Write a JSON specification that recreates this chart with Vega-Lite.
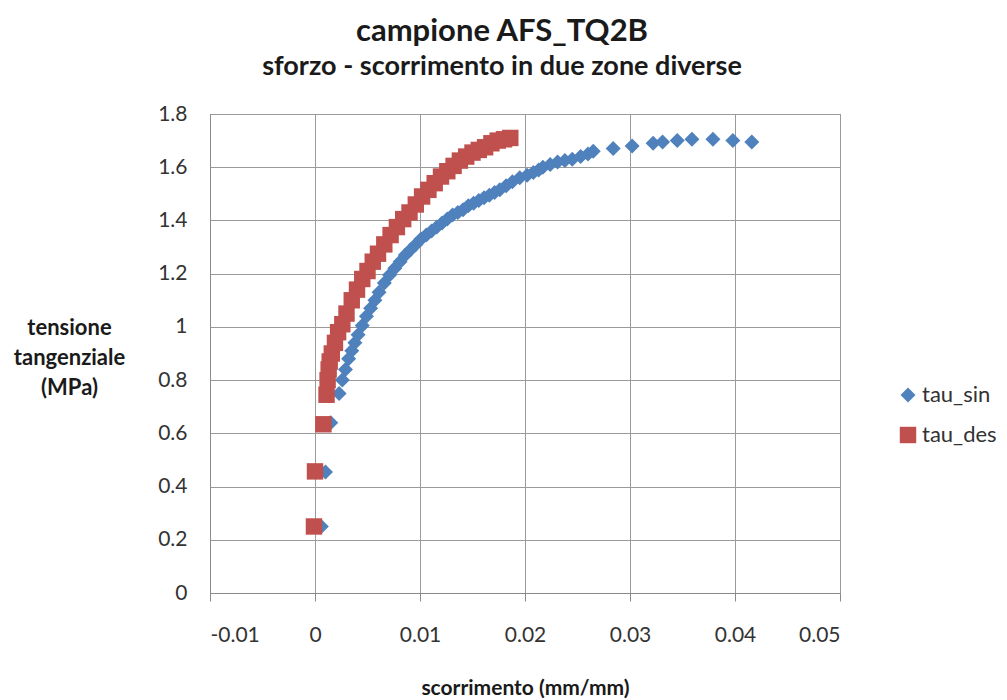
{
  "$schema": "https://vega.github.io/schema/vega-lite/v6.json",
  "width": 630,
  "height": 479,
  "autosize": {"type": "none"},
  "padding": {"left": 210, "top": 114, "right": 167, "bottom": 107},
  "background": "white",
  "title": {
    "text": "campione AFS_TQ2B",
    "subtitle": "sforzo - scorrimento in due zone diverse",
    "anchor": "middle",
    "frame": "group",
    "dx": -23,
    "offset": 22,
    "font": "Lato",
    "fontSize": 31,
    "fontWeight": "bold",
    "color": "#1a1a1a",
    "subtitleFont": "Lato",
    "subtitleFontSize": 27,
    "subtitleFontWeight": "bold",
    "subtitleColor": "#1a1a1a",
    "subtitlePadding": 6
  },
  "data": {
    "values": [
      {"serie": "tau_sin", "scorrimento": 0.0006, "tau": 0.25},
      {"serie": "tau_sin", "scorrimento": 0.0010, "tau": 0.455},
      {"serie": "tau_sin", "scorrimento": 0.0015, "tau": 0.64},
      {"serie": "tau_sin", "scorrimento": 0.0023, "tau": 0.75},
      {"serie": "tau_sin", "scorrimento": 0.0026, "tau": 0.80},
      {"serie": "tau_sin", "scorrimento": 0.0029, "tau": 0.84},
      {"serie": "tau_sin", "scorrimento": 0.0032, "tau": 0.88},
      {"serie": "tau_sin", "scorrimento": 0.0035, "tau": 0.91},
      {"serie": "tau_sin", "scorrimento": 0.0038, "tau": 0.94},
      {"serie": "tau_sin", "scorrimento": 0.0041, "tau": 0.97},
      {"serie": "tau_sin", "scorrimento": 0.0045, "tau": 1.005},
      {"serie": "tau_sin", "scorrimento": 0.0049, "tau": 1.04},
      {"serie": "tau_sin", "scorrimento": 0.0053, "tau": 1.07},
      {"serie": "tau_sin", "scorrimento": 0.0057, "tau": 1.10},
      {"serie": "tau_sin", "scorrimento": 0.0061, "tau": 1.13},
      {"serie": "tau_sin", "scorrimento": 0.0066, "tau": 1.165},
      {"serie": "tau_sin", "scorrimento": 0.0071, "tau": 1.195},
      {"serie": "tau_sin", "scorrimento": 0.0076, "tau": 1.22},
      {"serie": "tau_sin", "scorrimento": 0.0081, "tau": 1.245},
      {"serie": "tau_sin", "scorrimento": 0.0086, "tau": 1.27},
      {"serie": "tau_sin", "scorrimento": 0.0091, "tau": 1.29},
      {"serie": "tau_sin", "scorrimento": 0.0096, "tau": 1.31},
      {"serie": "tau_sin", "scorrimento": 0.0101, "tau": 1.33},
      {"serie": "tau_sin", "scorrimento": 0.0106, "tau": 1.345},
      {"serie": "tau_sin", "scorrimento": 0.0111, "tau": 1.36},
      {"serie": "tau_sin", "scorrimento": 0.0116, "tau": 1.375},
      {"serie": "tau_sin", "scorrimento": 0.0121, "tau": 1.39},
      {"serie": "tau_sin", "scorrimento": 0.0126, "tau": 1.405},
      {"serie": "tau_sin", "scorrimento": 0.0131, "tau": 1.42},
      {"serie": "tau_sin", "scorrimento": 0.0136, "tau": 1.43},
      {"serie": "tau_sin", "scorrimento": 0.0141, "tau": 1.44},
      {"serie": "tau_sin", "scorrimento": 0.0146, "tau": 1.455},
      {"serie": "tau_sin", "scorrimento": 0.0151, "tau": 1.465},
      {"serie": "tau_sin", "scorrimento": 0.0156, "tau": 1.475},
      {"serie": "tau_sin", "scorrimento": 0.0161, "tau": 1.485},
      {"serie": "tau_sin", "scorrimento": 0.0166, "tau": 1.495},
      {"serie": "tau_sin", "scorrimento": 0.0171, "tau": 1.505},
      {"serie": "tau_sin", "scorrimento": 0.0176, "tau": 1.515},
      {"serie": "tau_sin", "scorrimento": 0.0182, "tau": 1.53},
      {"serie": "tau_sin", "scorrimento": 0.0188, "tau": 1.545},
      {"serie": "tau_sin", "scorrimento": 0.0195, "tau": 1.56},
      {"serie": "tau_sin", "scorrimento": 0.0202, "tau": 1.57},
      {"serie": "tau_sin", "scorrimento": 0.0208, "tau": 1.58},
      {"serie": "tau_sin", "scorrimento": 0.0213, "tau": 1.59},
      {"serie": "tau_sin", "scorrimento": 0.0217, "tau": 1.60},
      {"serie": "tau_sin", "scorrimento": 0.0224, "tau": 1.61},
      {"serie": "tau_sin", "scorrimento": 0.0231, "tau": 1.62},
      {"serie": "tau_sin", "scorrimento": 0.0238, "tau": 1.625},
      {"serie": "tau_sin", "scorrimento": 0.0245, "tau": 1.63},
      {"serie": "tau_sin", "scorrimento": 0.0253, "tau": 1.64},
      {"serie": "tau_sin", "scorrimento": 0.0260, "tau": 1.65},
      {"serie": "tau_sin", "scorrimento": 0.0265, "tau": 1.66},
      {"serie": "tau_sin", "scorrimento": 0.0284, "tau": 1.67},
      {"serie": "tau_sin", "scorrimento": 0.0302, "tau": 1.68},
      {"serie": "tau_sin", "scorrimento": 0.0322, "tau": 1.69},
      {"serie": "tau_sin", "scorrimento": 0.0331, "tau": 1.695},
      {"serie": "tau_sin", "scorrimento": 0.0345, "tau": 1.70},
      {"serie": "tau_sin", "scorrimento": 0.0359, "tau": 1.705},
      {"serie": "tau_sin", "scorrimento": 0.0379, "tau": 1.705},
      {"serie": "tau_sin", "scorrimento": 0.0398, "tau": 1.70},
      {"serie": "tau_sin", "scorrimento": 0.0416, "tau": 1.695},
      {"serie": "tau_des", "scorrimento": -0.0001, "tau": 0.25},
      {"serie": "tau_des", "scorrimento": 0.0000, "tau": 0.457},
      {"serie": "tau_des", "scorrimento": 0.0008, "tau": 0.634},
      {"serie": "tau_des", "scorrimento": 0.0011, "tau": 0.745},
      {"serie": "tau_des", "scorrimento": 0.0012, "tau": 0.80},
      {"serie": "tau_des", "scorrimento": 0.0013, "tau": 0.84},
      {"serie": "tau_des", "scorrimento": 0.0014, "tau": 0.87},
      {"serie": "tau_des", "scorrimento": 0.0016, "tau": 0.90},
      {"serie": "tau_des", "scorrimento": 0.0019, "tau": 0.94},
      {"serie": "tau_des", "scorrimento": 0.0022, "tau": 0.98},
      {"serie": "tau_des", "scorrimento": 0.0026, "tau": 1.01},
      {"serie": "tau_des", "scorrimento": 0.0030, "tau": 1.05},
      {"serie": "tau_des", "scorrimento": 0.0035, "tau": 1.10},
      {"serie": "tau_des", "scorrimento": 0.0040, "tau": 1.14},
      {"serie": "tau_des", "scorrimento": 0.0045, "tau": 1.18},
      {"serie": "tau_des", "scorrimento": 0.0050, "tau": 1.21},
      {"serie": "tau_des", "scorrimento": 0.0055, "tau": 1.245},
      {"serie": "tau_des", "scorrimento": 0.0060, "tau": 1.275},
      {"serie": "tau_des", "scorrimento": 0.0066, "tau": 1.31},
      {"serie": "tau_des", "scorrimento": 0.0072, "tau": 1.345},
      {"serie": "tau_des", "scorrimento": 0.0078, "tau": 1.375},
      {"serie": "tau_des", "scorrimento": 0.0084, "tau": 1.405},
      {"serie": "tau_des", "scorrimento": 0.0090, "tau": 1.43},
      {"serie": "tau_des", "scorrimento": 0.0096, "tau": 1.46},
      {"serie": "tau_des", "scorrimento": 0.0102, "tau": 1.49},
      {"serie": "tau_des", "scorrimento": 0.0108, "tau": 1.515},
      {"serie": "tau_des", "scorrimento": 0.0114, "tau": 1.54},
      {"serie": "tau_des", "scorrimento": 0.0120, "tau": 1.565},
      {"serie": "tau_des", "scorrimento": 0.0126, "tau": 1.585},
      {"serie": "tau_des", "scorrimento": 0.0132, "tau": 1.605},
      {"serie": "tau_des", "scorrimento": 0.0138, "tau": 1.625},
      {"serie": "tau_des", "scorrimento": 0.0144, "tau": 1.64},
      {"serie": "tau_des", "scorrimento": 0.0150, "tau": 1.655},
      {"serie": "tau_des", "scorrimento": 0.0156, "tau": 1.665},
      {"serie": "tau_des", "scorrimento": 0.0162, "tau": 1.675},
      {"serie": "tau_des", "scorrimento": 0.0168, "tau": 1.69},
      {"serie": "tau_des", "scorrimento": 0.0174, "tau": 1.70},
      {"serie": "tau_des", "scorrimento": 0.0180, "tau": 1.705},
      {"serie": "tau_des", "scorrimento": 0.0186, "tau": 1.71}
    ]
  },
  "mark": {"type": "point", "filled": true, "opacity": 1},
  "encoding": {
    "x": {
      "field": "scorrimento",
      "type": "quantitative",
      "scale": {"domain": [-0.01, 0.05], "nice": false, "zero": false},
      "axis": {
        "title": "scorrimento (mm/mm)",
        "values": [-0.01, 0, 0.01, 0.02, 0.03, 0.04, 0.05],
        "labelExpr": "datum.value < 0 ? '-' + format(-datum.value, '~g') : format(datum.value, '~g')",
        "grid": true,
        "gridColor": "#9a9a9a",
        "gridWidth": 1,
        "domainColor": "#8a8a8a",
        "ticks": true,
        "tickSize": 8,
        "tickColor": "#8a8a8a",
        "labelPadding": 23,
        "labelFont": "Lato",
        "labelFontSize": 21,
        "labelColor": "#333333",
        "titleFont": "Lato",
        "titleFontSize": 21,
        "titleFontWeight": "bold",
        "titleColor": "#1a1a1a",
        "titleY": 95,
        "titleBaseline": "middle"
      }
    },
    "y": {
      "field": "tau",
      "type": "quantitative",
      "scale": {"domain": [0, 1.8], "nice": false},
      "axis": {
        "title": ["tensione", "tangenziale", "(MPa)"],
        "values": [0, 0.2, 0.4, 0.6, 0.8, 1, 1.2, 1.4, 1.6, 1.8],
        "format": "~g",
        "grid": true,
        "gridColor": "#9a9a9a",
        "gridWidth": 1,
        "domainColor": "#8a8a8a",
        "ticks": false,
        "tickSize": 0,
        "labelPadding": 23,
        "labelFont": "Lato",
        "labelFontSize": 21,
        "labelColor": "#333333",
        "titleFont": "Lato",
        "titleFontSize": 22,
        "titleFontWeight": "bold",
        "titleColor": "#1a1a1a",
        "titleAngle": 0,
        "titleAlign": "center",
        "titleBaseline": "middle",
        "titleLineHeight": 30,
        "titleX": -141,
        "titleY": 213
      }
    },
    "color": {
      "field": "serie",
      "type": "nominal",
      "scale": {"domain": ["tau_sin", "tau_des"], "range": ["#4F81BD", "#C0504D"]},
      "legend": {
        "title": null,
        "orient": "none",
        "legendX": 687,
        "legendY": 270,
        "padding": 0,
        "symbolSize": 110,
        "symbolStrokeWidth": 0,
        "labelFont": "Lato",
        "labelFontSize": 22,
        "labelColor": "#333333",
        "labelOffset": 3,
        "rowPadding": 18
      }
    },
    "shape": {
      "field": "serie",
      "type": "nominal",
      "scale": {"domain": ["tau_sin", "tau_des"], "range": ["diamond", "square"]},
      "legend": {
        "title": null,
        "orient": "none",
        "legendX": 687,
        "legendY": 270,
        "padding": 0,
        "symbolSize": 110,
        "symbolStrokeWidth": 0,
        "labelFont": "Lato",
        "labelFontSize": 22,
        "labelColor": "#333333",
        "labelOffset": 3,
        "rowPadding": 18
      }
    },
    "size": {
      "field": "serie",
      "type": "nominal",
      "scale": {"domain": ["tau_sin", "tau_des"], "range": [225, 270]},
      "legend": null
    }
  },
  "config": {
    "view": {"stroke": "#8a8a8a", "strokeWidth": 1}
  }
}
